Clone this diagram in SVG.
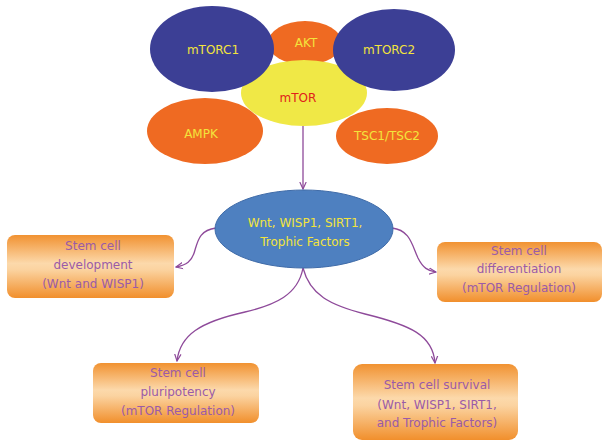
<svg xmlns="http://www.w3.org/2000/svg" width="610" height="448" viewBox="0 0 610 448">
<defs>
<style>
.t{font-family:"DejaVu Sans","Verdana",sans-serif;font-size:12px;text-anchor:middle}
.y{fill:#f3e43c}
.r{fill:#e0201b}
.p{fill:#9a5ba8}
.box{stroke:none;fill:url(#og)}
.con{fill:none;stroke:#8e4a9a;stroke-width:1.3}
</style>
<linearGradient id="og" x1="0" y1="0" x2="0" y2="1">
<stop offset="0" stop-color="#f19231"/>
<stop offset="0.45" stop-color="#fcd9ab"/>
<stop offset="0.55" stop-color="#fbd3a0"/>
<stop offset="1" stop-color="#f18f2c"/>
</linearGradient>
<marker id="ah" markerWidth="8" markerHeight="8" refX="7" refY="4" orient="auto" markerUnits="userSpaceOnUse">
<path d="M0,0.8 L7,4 L0,7.2" fill="none" stroke="#8e4a9a" stroke-width="1.2"/>
</marker>
</defs>
<rect width="610" height="448" fill="#ffffff"/>
<g id="akt"><ellipse cx="305" cy="43" rx="37" ry="22" fill="#ef6a22"/><text class="t y" x="306" y="47">AKT</text></g>
<g id="ampk"><ellipse cx="205" cy="131" rx="58" ry="33" fill="#ef6a22"/><text class="t y" x="201" y="138">AMPK</text></g>
<g id="mtor"><ellipse cx="304" cy="93" rx="63" ry="33" fill="#f0e846"/><text class="t r" x="298" y="102">mTOR</text></g>
<g id="tsc"><ellipse cx="387" cy="136" rx="51" ry="28" fill="#ef6a22"/><text class="t y" x="387" y="140">TSC1/TSC2</text></g>
<g id="mtorc1"><ellipse cx="212" cy="49" rx="62" ry="43" fill="#3c3f95"/><text class="t y" x="213" y="54">mTORC1</text></g>
<g id="mtorc2"><ellipse cx="394" cy="50" rx="61" ry="41" fill="#3c3f95"/><text class="t y" x="389" y="54">mTORC2</text></g>
<g id="connectors">
<path class="con" d="M303,126 L303,189" marker-end="url(#ah)"/>
<path class="con" d="M216,228 C200,230 198,240 195,250 C192,262 186,265 176,267" marker-end="url(#ah)"/>
<path class="con" d="M392,228 C410,230 412,245 418,258 C423,268 428,271 436,272" marker-end="url(#ah)"/>
<path class="con" d="M303,268 C298,295 275,305 245,312 C200,322 180,335 177,361" marker-end="url(#ah)"/>
<path class="con" d="M303,268 C310,295 330,305 365,314 C410,325 433,335 435,363" marker-end="url(#ah)"/>
</g>
<g id="center"><ellipse cx="304" cy="229" rx="89" ry="39" fill="#4e80c0" stroke="#3f6ba8" stroke-width="1"/><text class="t y" x="305" y="227">Wnt, WISP1, SIRT1,</text><text class="t y" x="305" y="246">Trophic Factors</text></g>
<g id="dev"><rect class="box" x="7" y="235" width="167" height="63" rx="8"/><text class="t p" x="93" y="250">Stem cell</text><text class="t p" x="93" y="269">development</text><text class="t p" x="93" y="288">(Wnt and WISP1)</text></g>
<g id="diff"><rect class="box" x="437" y="242" width="165" height="60" rx="8"/><text class="t p" x="519" y="255">Stem cell</text><text class="t p" x="519" y="273">differentiation</text><text class="t p" x="519" y="292">(mTOR Regulation)</text></g>
<g id="pluri"><rect class="box" x="93" y="363" width="166" height="60" rx="8"/><text class="t p" x="178" y="377">Stem cell</text><text class="t p" x="178" y="396">pluripotency</text><text class="t p" x="178" y="415">(mTOR Regulation)</text></g>
<g id="surv"><rect class="box" x="353" y="364" width="165" height="76" rx="9"/><text class="t p" x="437" y="389">Stem cell survival</text><text class="t p" x="437" y="409">(Wnt, WISP1, SIRT1,</text><text class="t p" x="437" y="427">and Trophic Factors)</text></g>
</svg>
